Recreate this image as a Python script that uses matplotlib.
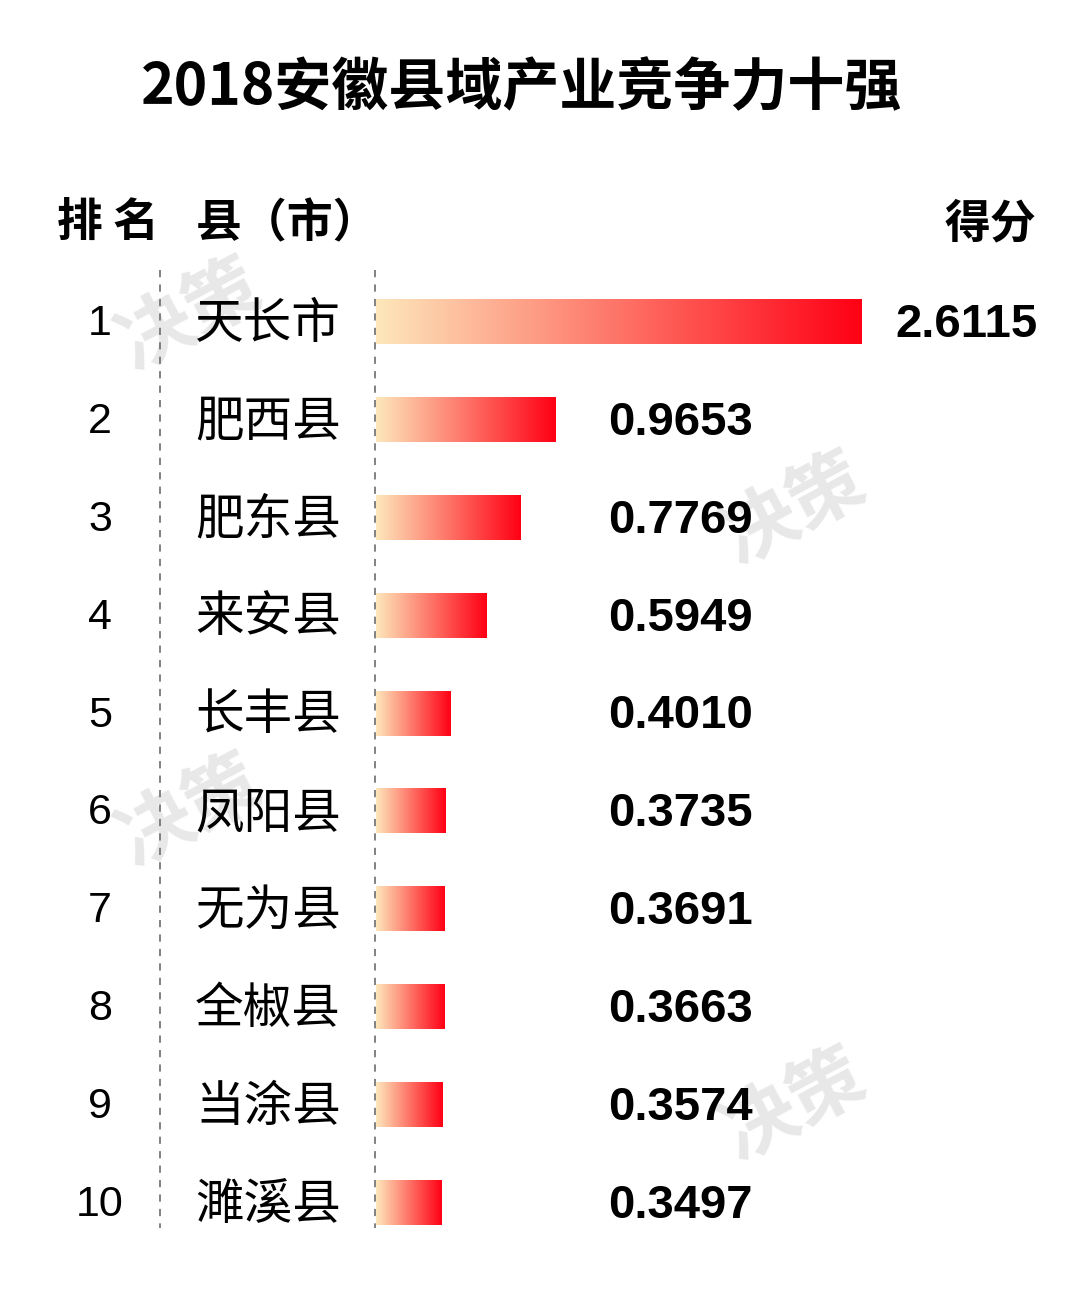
import matplotlib

matplotlib.use("Agg")
import matplotlib.pyplot as plt
import numpy as np
from matplotlib.colors import LinearSegmentedColormap
from matplotlib.transforms import blended_transform_factory

plt.rcParams["font.family"] = ["Noto Sans CJK SC", "DejaVu Sans"]

title = "2018安徽县域产业竞争力十强"
ranks = ["1", "2", "3", "4", "5", "6", "7", "8", "9", "10"]
counties = ["天长市", "肥西县", "肥东县", "来安县", "长丰县",
            "凤阳县", "无为县", "全椒县", "当涂县", "濉溪县"]
scores = [2.6115, 0.9653, 0.7769, 0.5949, 0.4010,
          0.3735, 0.3691, 0.3663, 0.3574, 0.3497]

W, H = 1080, 1303
fig = plt.figure(figsize=(W / 100, H / 100), dpi=100)
fig.patch.set_facecolor("white")

# bar panel: left edge at the second dashed line, rows ~98 px apart
ax = fig.add_axes([376 / W, 1 - 1252 / H, (W - 376) / W, 979 / H])
ax.set_xlim(0, 3.783)
ax.set_ylim(len(scores) - 0.5, -0.5)
ax.axis("off")

grad = LinearSegmentedColormap.from_list("cream_red", ["#fde7bb", "#ff0014"])
ramp = np.linspace(0, 1, 256).reshape(1, -1)
bars = ax.barh(range(len(scores)), scores, height=0.45, color="none", edgecolor="none")
for b in bars:
    x0, y0, w, h = b.get_x(), b.get_y(), b.get_width(), b.get_height()
    ax.imshow(ramp, cmap=grad, aspect="auto", extent=(x0, x0 + w, y0 + h, y0),
              interpolation="bicubic", zorder=2)
ax.set_xlim(0, 3.783)
ax.set_ylim(len(scores) - 0.5, -0.5)

# value labels: after the bar, but not left of a common column
col_x, pad = 1.247, 0.177
for i, v in enumerate(scores):
    ax.text(max(v + pad, col_x), i + 0.03, f"{v:.4f}", ha="left", va="center",
            fontsize=34, fontweight="bold", family="Liberation Sans", zorder=3)

tr = blended_transform_factory(fig.transFigure, ax.transData)
for i, (r, c) in enumerate(zip(ranks, counties)):
    fig.text(100 / W, i + 0.02, r, transform=tr, ha="center", va="center",
             fontsize=31, family="Liberation Sans")
    fig.text(195 / W, i + 0.02, c, transform=tr, ha="left", va="center", fontsize=35)

# dashed separators
for xp in (160, 375):
    fig.add_artist(plt.Line2D([xp / W, xp / W], [1 - 270 / H, 1 - 1228 / H],
                              color="#777777", lw=1.3, ls=(0, (4, 4))))

# headers
fig.text(57 / W, 1 - 224 / H, "排 名", ha="left", va="center", fontsize=33, fontweight="bold")
fig.text(196 / W, 1 - 224 / H, "县（市）", ha="left", va="center", fontsize=33, fontweight="bold")
fig.text(1036 / W, 1 - 224 / H, "得分", ha="right", va="center", fontsize=33, fontweight="bold")
fig.text(522 / W, 1 - 88 / H, title, ha="center", va="center", fontsize=41, fontweight="heavy")

# faint watermarks, behind everything
for wx, wy in [(190, 316), (794, 510), (190, 812), (794, 1106)]:
    fig.text(wx / W, 1 - wy / H, "决策", ha="center", va="center", fontsize=54,
             fontweight="heavy", color="#e8e8e8", rotation=28, zorder=-1)

fig.savefig("out.png", dpi=100, facecolor="white")
